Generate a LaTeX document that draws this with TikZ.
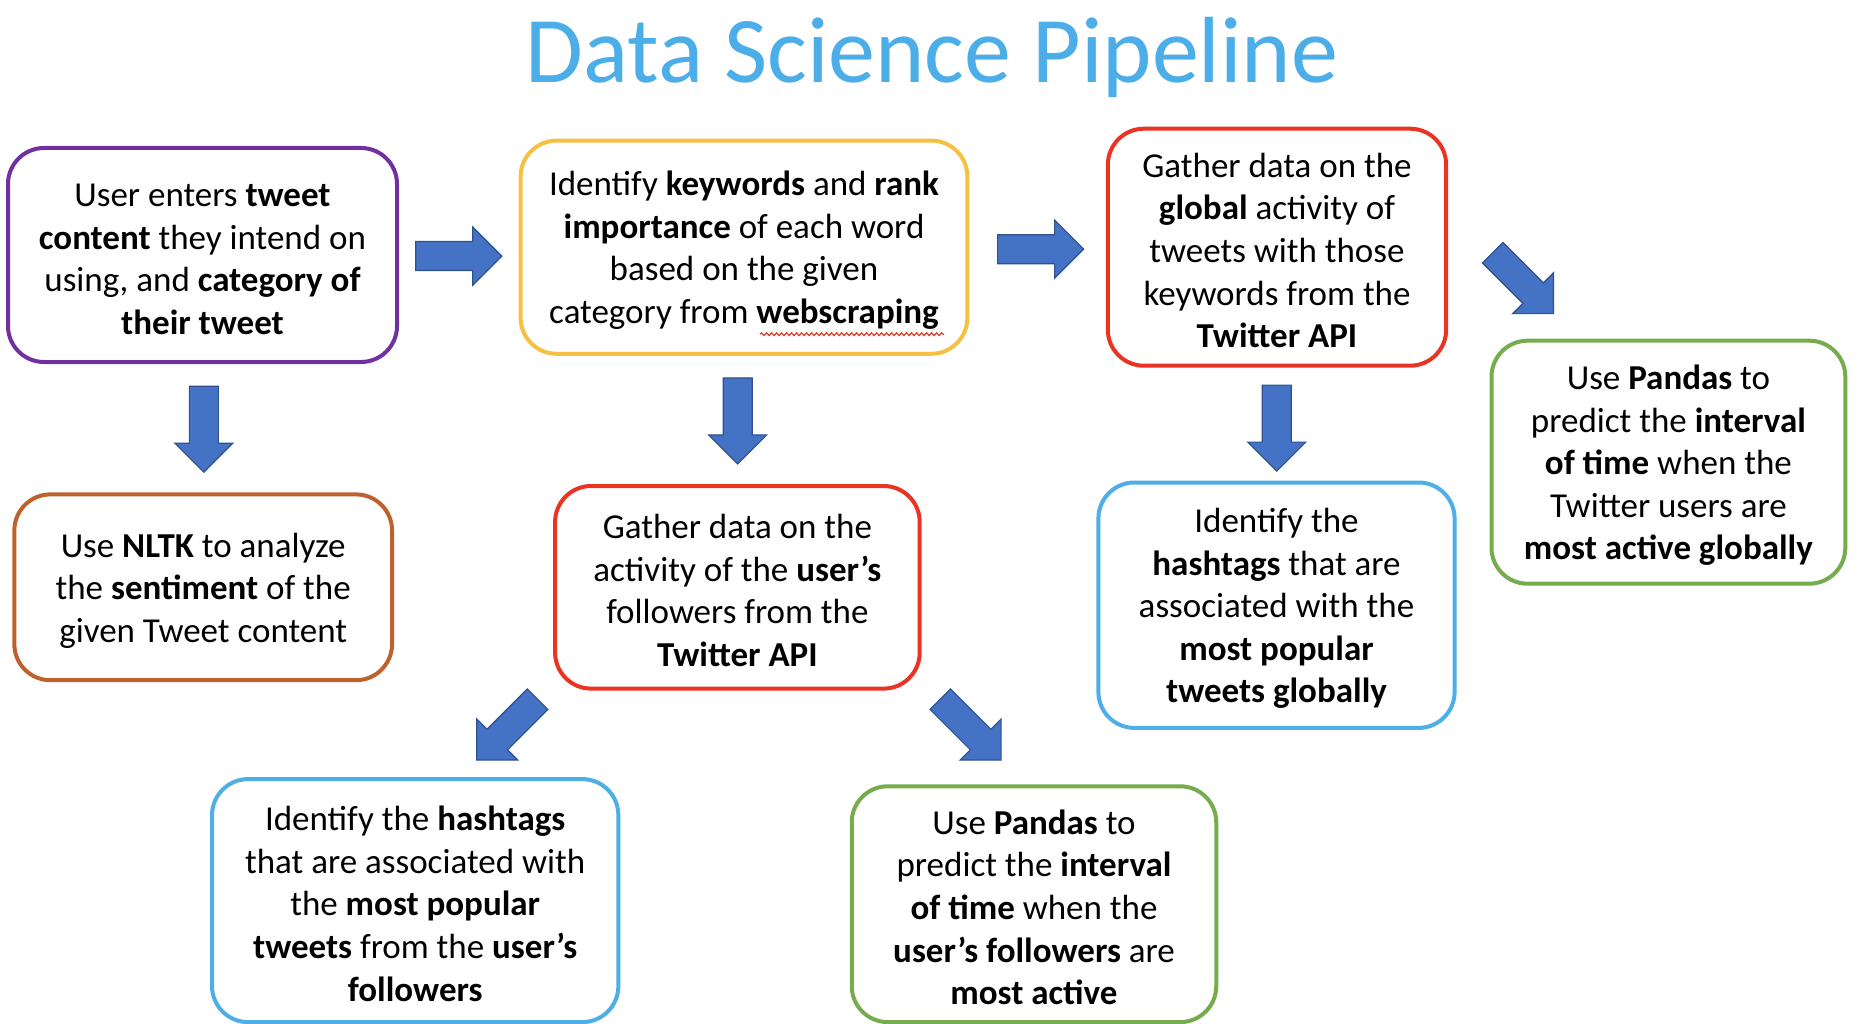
\documentclass[tikz,border=0pt]{standalone}
\usepackage{fontspec}
\setmainfont{Carlito}
\usepackage{xcolor}
\usepackage{tikz}
\usetikzlibrary{calc,decorations.pathmorphing}
\definecolor{titleblue}{RGB}{75,174,233}
\definecolor{arrowblue}{HTML}{4472C4}
\definecolor{arrowedge}{HTML}{2F528F}
\definecolor{purpleline}{HTML}{7030A0}
\definecolor{goldline}{RGB}{246,193,66}
\definecolor{redline}{RGB}{234,51,35}
\definecolor{greenline}{RGB}{118,171,78}
\definecolor{rustline}{RGB}{191,97,44}
\definecolor{skyline}{RGB}{77,174,232}
\newcommand{\capstrut}{\rule{0pt}{31pt}}
\newcommand{\flowarrow}[2]{%
  \draw[flow,shift={#1},rotate=#2] (-43,-14.5) -- (14,-14.5) -- (14,-29) -- (43,0) -- (14,29) -- (14,14.5) -- (-43,14.5) -- cycle;}

\begin{document}
\begin{tikzpicture}[x=1pt,y=-1pt,
  stage/.style={draw,fill=white,rounded corners=36pt,line width=4pt,align=center,inner sep=0pt,text=black,font=\fontsize{35}{42.6}\selectfont},
  purplebox/.style={stage,draw=purpleline},
  goldbox/.style={stage,draw=goldline},
  redbox/.style={stage,draw=redline},
  greenbox/.style={stage,draw=greenline},
  rustbox/.style={stage,draw=rustline},
  skybox/.style={stage,draw=skyline},
  flow/.style={fill=arrowblue,draw=arrowedge,line width=1.2pt,line join=miter}
]
\useasboundingbox (0,0) rectangle (1868,1024);
\fill[white] (0,0) rectangle (1868,1024);
\node[anchor=base,text=titleblue,font=\fontsize{94}{110}\selectfont] (title) at (932,83) {Data Science Pipeline};
% top row
\node[purplebox,minimum width=389pt,minimum height=214pt] (user) at (202.5,255) {\capstrut User enters \textbf{tweet}\\\textbf{content} they intend on\\using, and \textbf{category of}\\\textbf{their tweet}};
\node[goldbox,minimum width=446.7pt,minimum height=213.2pt] (keywords) at (744,247.2) {\capstrut Identify \textbf{keywords} and \textbf{rank}\\\textbf{importance} of each word\\based on the given\\category from \textbf{webscraping}};
\node[redbox,minimum width=338.3pt,minimum height=237pt] (globalapi) at (1277,247.2) {\capstrut Gather data on the\\\textbf{global} activity of\\tweets with those\\keywords from the\\\textbf{Twitter API}};
\node[greenbox,minimum width=353.8pt,minimum height=243pt] (globaltime) at (1668.4,462.2) {\capstrut Use \textbf{Pandas} to\\predict the \textbf{interval}\\\textbf{of time} when the\\Twitter users are\\\textbf{most active globally}};
% middle row
\node[rustbox,minimum width=377.7pt,minimum height=185.8pt] (nltk) at (203.2,587.3) {\capstrut Use \textbf{NLTK} to analyze\\the \textbf{sentiment} of the\\given Tweet content};
\node[redbox,minimum width=364.6pt,minimum height=202.6pt] (followapi) at (737.4,587.3) {\capstrut Gather data on the\\activity of the \textbf{user’s}\\followers from the\\\textbf{Twitter API}};
\node[skybox,minimum width=356.2pt,minimum height=245.4pt] (globaltags) at (1276.5,605.2) {\capstrut Identify the\\\textbf{hashtags} that are\\associated with the\\\textbf{most popular}\\\textbf{tweets globally}};
% bottom row
\node[skybox,minimum width=406.3pt,minimum height=243pt] (followtags) at (415.2,900.6) {\capstrut Identify the \textbf{hashtags}\\that are associated with\\the \textbf{most popular}\\\textbf{tweets} from the \textbf{user’s}\\\textbf{followers}};
\node[greenbox,minimum width=364.5pt,minimum height=235.8pt] (followtime) at (1034,904.2) {\capstrut Use \textbf{Pandas} to\\predict the \textbf{interval}\\\textbf{of time} when the\\\textbf{user’s followers} are\\\textbf{most active}};
% spell-check squiggle
\draw[redline,line width=1.2pt,decorate,decoration={snake,amplitude=1.3pt,segment length=5pt}] ($(keywords.center)+(16,87)$) -- ($(keywords.center)+(200,87)$);
% block arrows
\flowarrow{($(user.east)!.5!(keywords.west)+(0,5)$)}{0}
\flowarrow{($(keywords.east)!.5!(globalapi.west)+(3,2)$)}{0}
\flowarrow{($(globalapi.east)+(75,36)$)}{-45}
\flowarrow{($(user.south)!.5!(nltk.north)+(1,1)$)}{-90}
\flowarrow{($(keywords.south)!.5!(followapi.north)+(-3,1)$)}{-90}
\flowarrow{($(globalapi.south)!.5!(globaltags.north)+(0,4)$)}{-90}
\flowarrow{($(followapi.south west)+(-46,39)$)}{-135}
\flowarrow{($(followapi.south east)+(49,39)$)}{-45}
\end{tikzpicture}
\end{document}
